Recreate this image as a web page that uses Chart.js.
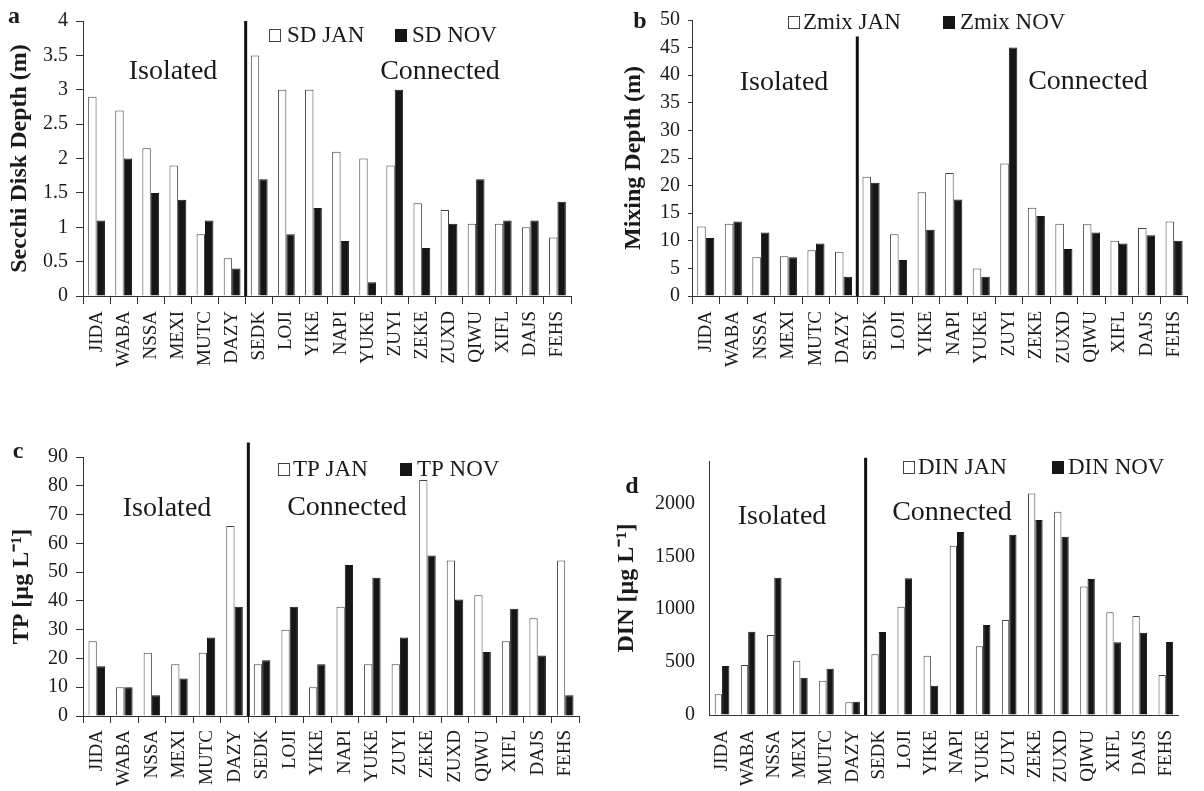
<!DOCTYPE html>
<html>
<head>
<meta charset="utf-8">
<title>Lakes JAN / NOV</title>
<script src="https://cdn.jsdelivr.net/npm/chart.js@4.4.1/dist/chart.umd.min.js"></script>
<style>
  body { margin: 0; background: #fff; }
  #wrap { position: relative; width: 1204px; height: 791px; overflow: hidden; }
  canvas { position: absolute; }
</style>
</head>
<body>
<div id="wrap">
  <canvas id="chartA" width="600" height="395" style="left:0px;top:0px"></canvas>
  <canvas id="chartB" width="604" height="395" style="left:600px;top:0px"></canvas>
  <canvas id="chartC" width="600" height="396" style="left:0px;top:395px"></canvas>
  <canvas id="chartD" width="604" height="396" style="left:600px;top:395px"></canvas>
</div>
<script>
// Lake codes (same order in all four panels)
const lakes = ['JIDA', 'WABA', 'NSSA', 'MEXI', 'MUTC', 'DAZY', 'SEDK', 'LOJI', 'YIKE',
               'NAPI', 'YUKE', 'ZUYI', 'ZEKE', 'ZUXD', 'QIWU', 'XIFL', 'DAJS', 'FEHS'];

// a - Secchi disk depth (m)
const sdJan = [2.9, 2.7, 2.15, 1.9, 0.9, 0.55, 3.5, 3.0, 3.0, 2.1, 2.0, 1.9, 1.35, 1.25, 1.05, 1.05, 1.0, 0.85];
const sdNov = [1.1, 2.0, 1.5, 1.4, 1.1, 0.4, 1.7, 0.9, 1.28, 0.8, 0.2, 3.0, 0.7, 1.05, 1.7, 1.1, 1.1, 1.37];
const sdTicks = [0, 0.5, 1, 1.5, 2, 2.5, 3, 3.5, 4];

// b - mixing depth (m)
const zmixJan = [12.6, 13.1, 7, 7.2, 8.3, 8, 21.6, 11.2, 18.8, 22.3, 5, 24, 16, 13.1, 13, 10, 12.3, 13.5];
const zmixNov = [10.5, 13.5, 11.5, 7, 9.5, 3.5, 20.5, 6.5, 12, 17.5, 3.5, 45, 14.5, 8.5, 11.5, 9.5, 11, 10];
const zmixTicks = [0, 5, 10, 15, 20, 25, 30, 35, 40, 45, 50];

// c - total phosphorus (µg/L)
const tpJan = [26, 10, 22, 18, 22, 66, 18, 30, 10, 38, 18, 18, 82, 54, 42, 26, 34, 54];
const tpNov = [17.3, 10, 7.2, 13, 27.3, 38, 19.4, 38, 18, 52.5, 48, 27.3, 55.8, 40.5, 22.2, 37.3, 21, 7.2];
const tpTicks = [0, 10, 20, 30, 40, 50, 60, 70, 80, 90];

// d - dissolved inorganic nitrogen (µg/L)
const dinJan = [195, 472, 756, 513, 324, 120, 573, 1024, 561, 1600, 649, 898, 2094, 1921, 1213, 970, 935, 378];
const dinNov = [463, 787, 1298, 353, 438, 126, 784, 1291, 277, 1729, 850, 1704, 1843, 1685, 1285, 687, 778, 690];
const dinTicks = [0, 500, 1000, 1500, 2000];

const INK = '#1a1a1a';
const FONT = '"Liberation Serif", "Times New Roman", serif';
Chart.defaults.font.family = FONT;
Chart.defaults.color = INK;

// draws the panel letter, Isolated/Connected labels, divider and the legend
const panelDecor = {
    id: 'panelDecor',
    afterDraw(chart, args, opts) {
        const ctx = chart.ctx;
        const xs = chart.scales.x;
        const ys = chart.scales.y;
        ctx.save();

        // thick divider between isolated and connected lakes
        const sx = (xs.getPixelForValue(opts.sepAfter) + xs.getPixelForValue(opts.sepAfter + 1)) / 2;
        ctx.strokeStyle = '#111';
        ctx.lineWidth = 3;
        ctx.beginPath();
        ctx.moveTo(sx, ys.getPixelForValue(0));
        ctx.lineTo(sx, ys.getPixelForValue(opts.sepTop));
        ctx.stroke();

        ctx.fillStyle = INK;
        ctx.textAlign = 'center';
        ctx.textBaseline = 'middle';
        ctx.font = 'bold 24px ' + FONT;
        ctx.fillText(opts.letter, opts.letterAt[0], opts.letterAt[1]);

        ctx.font = '28px ' + FONT;
        ctx.fillText('Isolated', opts.isolatedAt[0], opts.isolatedAt[1]);
        ctx.fillText('Connected', opts.connectedAt[0], opts.connectedAt[1]);

        // legend
        ctx.font = '23px ' + FONT;
        ctx.textAlign = 'left';
        chart.data.datasets.forEach((ds, i) => {
            const [bx, by, tx] = opts.legend[i];
            ctx.fillStyle = ds.backgroundColor;
            ctx.fillRect(bx, by - 6, 12, 13);
            ctx.strokeStyle = ds.borderColor;
            ctx.lineWidth = 1;
            ctx.strokeRect(bx + 0.5, by - 5.5, 11, 12);
            ctx.fillStyle = INK;
            ctx.fillText(ds.label, tx, by + 1);
        });
        ctx.restore();
    }
};

function makeChart(id, jan, nov, cfg) {
    const ctx = document.getElementById(id).getContext('2d');
    return new Chart(ctx, {
        type: 'bar',
        data: {
            labels: lakes,
            datasets: [{
                label: cfg.names[0],
                data: jan,
                backgroundColor: '#ffffff',
                borderColor: '#444',
                borderWidth: 1,
                barPercentage: 1,
                categoryPercentage: cfg.catPct
            }, {
                label: cfg.names[1],
                data: nov,
                backgroundColor: '#161616',
                borderColor: '#161616',
                borderWidth: 1,
                barPercentage: 1,
                categoryPercentage: cfg.catPct
            }]
        },
        options: {
            responsive: false,
            animation: false,
            layout: { padding: cfg.padding },
            plugins: {
                legend: { display: false },
                tooltip: { enabled: false },
                panelDecor: cfg.decor
            },
            scales: {
                x: {
                    offset: true,
                    grid: {
                        offset: true,
                        drawOnChartArea: false,
                        drawTicks: cfg.xTick > 0,
                        tickLength: cfg.xTick,
                        color: '#333'
                    },
                    border: { display: true, color: '#333', width: 1 },
                    ticks: {
                        autoSkip: false,
                        minRotation: 90,
                        maxRotation: 90,
                        padding: cfg.xPad,
                        font: { size: 19 },
                        color: INK
                    },
                    afterFit: s => { s.height = cfg.xH; }
                },
                y: {
                    min: 0,
                    max: cfg.yMax,
                    afterBuildTicks: s => { s.ticks = cfg.ticks.map(v => ({ value: v })); },
                    grid: {
                        drawOnChartArea: false,
                        drawTicks: cfg.yTick > 0,
                        tickLength: cfg.yTick,
                        color: '#333'
                    },
                    border: { display: true, color: '#333', width: 1 },
                    ticks: {
                        padding: cfg.yPad,
                        font: { size: 20 },
                        color: INK,
                        callback: v => String(v)
                    },
                    title: {
                        display: true,
                        text: cfg.title,
                        color: INK,
                        font: { size: 24, weight: 'bold' },
                        padding: { top: cfg.titlePad, bottom: 0 }
                    },
                    afterFit: s => { s.width = cfg.yW; }
                }
            }
        },
        plugins: [panelDecor]
    });
}

// a
makeChart('chartA', sdJan, sdNov, {
    names: ['SD JAN', 'SD NOV'],
    catPct: 0.62,
    padding: { left: 0, top: 21, right: 29, bottom: 0 },
    yW: 83, xH: 99, yMax: 4, ticks: sdTicks,
    xTick: 8, xPad: 7, yTick: 7, yPad: 8,
    title: 'Secchi Disk Depth (m)', titlePad: 5,
    decor: {
        letter: 'a', letterAt: [14, 17],
        isolatedAt: [173, 72], connectedAt: [440, 72],
        sepAfter: 5, sepTop: 4,
        legend: [[269, 35, 287], [395, 35, 412]]
    }
});

// b
makeChart('chartB', zmixJan, zmixNov, {
    names: ['Zmix JAN', 'Zmix NOV'],
    catPct: 0.62,
    padding: { left: 0, top: 11, right: 4, bottom: 0 },
    yW: 92, xH: 99, yMax: 50, ticks: zmixTicks,
    xTick: 8, xPad: 7, yTick: 4, yPad: 8,
    title: 'Mixing Depth (m)', titlePad: 19,
    decor: {
        letter: 'b', letterAt: [40, 22],
        isolatedAt: [184, 83], connectedAt: [488, 82],
        sepAfter: 5, sepTop: 47,
        legend: [[188, 22, 203], [343, 22, 360]]
    }
});

// c
makeChart('chartC', tpJan, tpNov, {
    names: ['TP JAN', 'TP NOV'],
    catPct: 0.6,
    padding: { left: 0, top: 62, right: 21, bottom: 0 },
    yW: 83, xH: 75, yMax: 90, ticks: tpTicks,
    xTick: 7, xPad: 7, yTick: 7, yPad: 8,
    title: 'TP [µg L⁻¹]', titlePad: 7,
    decor: {
        letter: 'c', letterAt: [18, 57],
        isolatedAt: [167, 114], connectedAt: [347, 113],
        sepAfter: 5, sepTop: 95,
        legend: [[278, 74, 293], [400, 74, 417]]
    }
});

// d
makeChart('chartD', dinJan, dinNov, {
    names: ['DIN JAN', 'DIN NOV'],
    catPct: 0.56,
    padding: { left: 0, top: 66, right: 13, bottom: 0 },
    yW: 109, xH: 76, yMax: 2400, ticks: dinTicks,
    xTick: 0, xPad: 15, yTick: 0, yPad: 14,
    title: 'DIN [µg L⁻¹]', titlePad: 12,
    decor: {
        letter: 'd', letterAt: [32, 92],
        isolatedAt: [182, 122], connectedAt: [352, 118],
        sepAfter: 5, sepTop: 2430,
        legend: [[303, 72, 318], [452, 72, 468]]
    }
});
</script>
</body>
</html>
